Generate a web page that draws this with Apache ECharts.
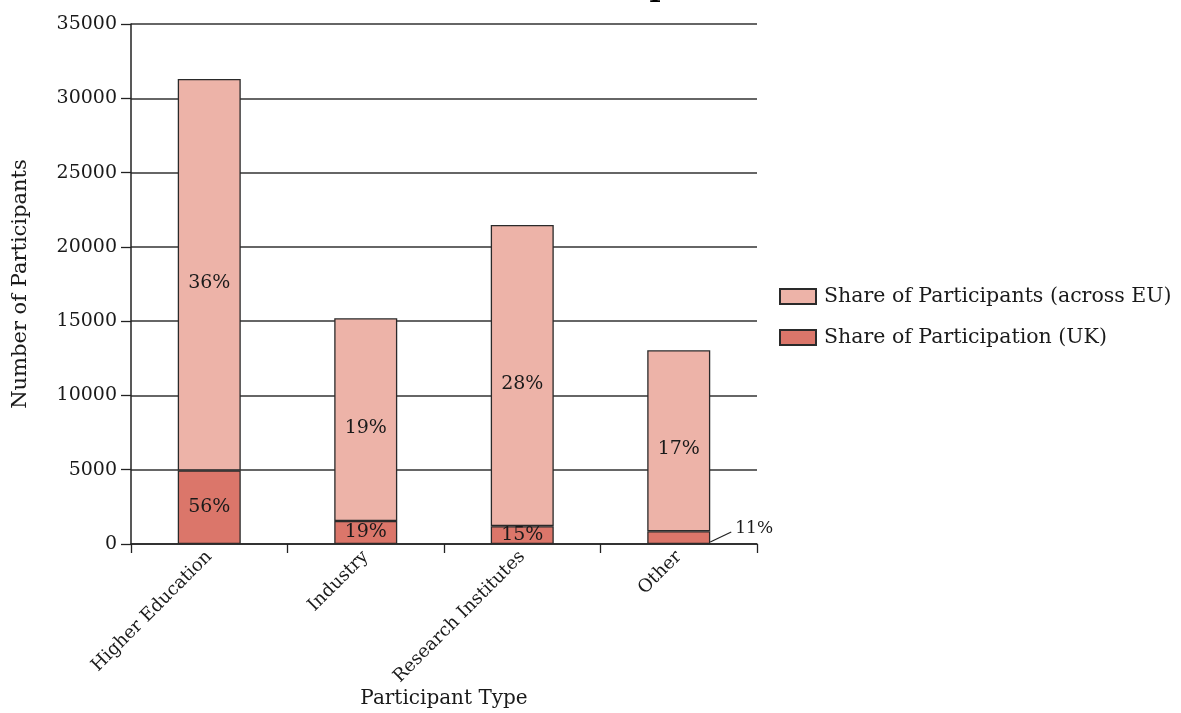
<!DOCTYPE html>
<html>
<head>
<meta charset="utf-8">
<script src="https://cdn.jsdelivr.net/npm/echarts@6/dist/echarts.min.js"></script>
<style>
  html, body { margin: 0; padding: 0; background: #fff; }
  #chart { width: 1181px; height: 713px; }
</style>
</head>
<body>
<div id="chart"></div>
<script>
// Participant types on the x axis
const categories = ['Higher Education', 'Industry', 'Research Institutes', 'Other'];
// UK participants (lower, darker segment)
const ukValues = [4950, 1550, 1200, 860];
// Remaining EU participants stacked on top (total minus UK)
const euRestValues = [26350, 13640, 20270, 12180];
// Percentage labels for each segment
const euShare = ['36%', '19%', '28%', '17%'];
const ukShare = ['56%', '19%', '15%', '11%'];
const yTicks = { min: 0, max: 35000, interval: 5000 };

const serif = '"DejaVu Serif", "Liberation Serif", serif';
const ink = '#1a1a1a';
const BAR_W = 63;
// the last UK segment is too thin for its label, so it sits outside with a leader
const OUTSIDE_IDX = 3;

const chart = echarts.init(document.getElementById('chart'), null, { renderer: 'canvas' });

chart.setOption({
  backgroundColor: '#fff',
  animation: false,
  graphic: [{
    type: 'text',
    left: 475,
    top: -27,
    style: { text: 'UK Participation', font: 'bold 30px ' + serif, fill: '#000' }
  }],
  grid: { left: 131, right: 424, top: 24, bottom: 169, containLabel: false, outerBoundsMode: 'none' },
  legend: {
    orient: 'vertical',
    left: 774,
    top: 281,
    itemWidth: 36,
    itemHeight: 15,
    itemGap: 20,
    icon: 'rect',
    data: ['Share of Participants (across EU)', 'Share of Participation (UK)'],
    textStyle: { fontFamily: serif, fontSize: 20.5, color: ink, padding: [0, 0, 0, 3] }
  },
  xAxis: {
    type: 'category',
    data: categories,
    name: 'Participant Type',
    nameLocation: 'middle',
    nameGap: 145,
    nameMoveOverlap: false,
    nameTextStyle: { fontFamily: serif, fontSize: 20, color: ink },
    axisLine: { lineStyle: { color: '#222', width: 1.5 } },
    axisTick: { show: true, length: 9, lineStyle: { color: '#222', width: 1.3 } },
    axisLabel: { rotate: 45, margin: 10, fontFamily: serif, fontSize: 18, color: ink }
  },
  yAxis: {
    type: 'value',
    min: yTicks.min,
    max: yTicks.max,
    interval: yTicks.interval,
    name: 'Number of Participants',
    nameLocation: 'middle',
    nameGap: 100,
    nameMoveOverlap: false,
    nameTextStyle: { fontFamily: serif, fontSize: 21, color: ink },
    axisLine: { show: true, lineStyle: { color: '#222', width: 1.5 } },
    axisTick: { show: true, length: 10, lineStyle: { color: '#222', width: 1.3 } },
    axisLabel: { margin: 14, fontFamily: serif, fontSize: 19, color: ink, formatter: v => String(v) },
    splitLine: { show: true, lineStyle: { color: '#333', width: 1.5 } }
  },
  series: [
    {
      name: 'Share of Participation (UK)',
      type: 'bar',
      stack: 'total',
      barWidth: BAR_W,
      data: ukValues,
      itemStyle: { color: '#db766a', borderColor: '#2a2a2a', borderWidth: 1.3 },
      label: {
        show: true,
        position: 'inside',
        offset: [0, 4],
        fontFamily: serif,
        fontSize: 19,
        color: ink,
        formatter: p => ukShare[p.dataIndex]
      },
      labelLayout: function (p) {
        if (p.dataIndex === OUTSIDE_IDX) {
          return {
            x: p.rect.x + p.rect.width + 25,
            y: p.rect.y + p.rect.height - 15,
            align: 'left',
            verticalAlign: 'middle',
            fontSize: 17
          };
        }
        return {};
      }
    },
    {
      name: 'Share of Participants (across EU)',
      type: 'bar',
      stack: 'total',
      barWidth: BAR_W,
      data: euRestValues,
      itemStyle: { color: '#edb3a8', borderColor: '#2a2a2a', borderWidth: 1.3 },
      label: {
        show: true,
        position: 'inside',
        offset: [0, 8],
        fontFamily: serif,
        fontSize: 19,
        color: ink,
        formatter: p => euShare[p.dataIndex]
      }
    }
  ]
});

// Leader line from the thin UK segment to its outside label
const base = chart.convertToPixel({ xAxisIndex: 0, yAxisIndex: 0 }, [OUTSIDE_IDX, 0]);
const rightEdge = base[0] + BAR_W / 2;
chart.setOption({
  graphic: [{
    type: 'text',
    left: 475,
    top: -27,
    style: { text: 'UK Participation', font: 'bold 30px ' + serif, fill: '#000' }
  }, {
    type: 'line',
    shape: { x1: rightEdge, y1: base[1] - 2, x2: rightEdge + 21, y2: base[1] - 12 },
    style: { stroke: '#222', lineWidth: 1.2 }
  }]
});
</script>
</body>
</html>
